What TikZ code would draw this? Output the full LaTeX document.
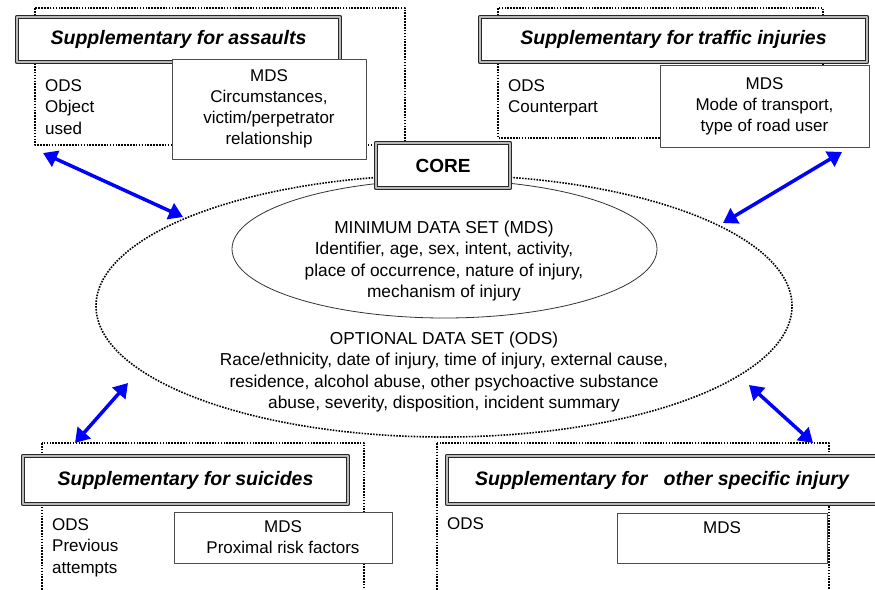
\documentclass[tikz,border=0pt]{standalone}
\usepackage{fontspec}
\setmainfont{Liberation Sans}
\usetikzlibrary{arrows.meta,shapes.geometric}

\tikzset{
    suptitle/.style={draw=black!85, line width=1.5pt, double=gray!55, double distance=1.4pt,
        fill=white, inner sep=0pt, font=\fontsize{19.5}{22}\selectfont\bfseries\itshape},
    mdsbox/.style={draw=black!70, line width=0.7pt, fill=white, inner sep=0pt, align=center,
        font=\fontsize{17}{21}\selectfont},
    bodytext/.style={inner sep=0pt, align=left, anchor=north west, font=\fontsize{17}{21.5}\selectfont},
    coretext/.style={inner sep=0pt, align=center, font=\fontsize{17.3}{21.3}\selectfont},
    groupframe/.style={draw=black, line width=1.6pt, dash pattern=on 1.6pt off 1.3pt},
    linkarrow/.style={blue, line width=3.5pt, {Triangle[length=14pt,width=17pt]}-{Triangle[length=14pt,width=17pt]}}
}

\begin{document}
\begin{tikzpicture}[x=1pt, y=-1pt, line join=round]
                
                \clip (0,0) rectangle (875,589);
                \fill[white] (0,0) rectangle (875,589);

                % core ellipses
                \node[ellipse, groupframe, minimum width=696, minimum height=262] (outer) at (444,306) {};
                \node[ellipse, draw=black!80, line width=0.8pt, minimum width=425, minimum height=138] (inner) at (444.5,249) {};

                \node[coretext] (mdsset) at (444,261) {MINIMUM DATA SET (MDS)\\Identifier, age, sex, intent, activity,\\place of occurrence, nature of injury,\\mechanism of injury};
                \node[coretext] (odsset) at (444,372) {OPTIONAL DATA SET (ODS)\\Race/ethnicity, date of injury, time of injury, external cause,\\residence, alcohol abuse, other psychoactive substance\\abuse, severity, disposition, incident summary};

                % dotted frames
                \draw[groupframe] (35,8) rectangle (405,145);
                \draw[groupframe] (498,8) rectangle (823,138);
                \draw[groupframe] (42,443) rectangle (364,620);
                \draw[groupframe] (437,443) rectangle (829,620);

                % assaults
                \node[suptitle, minimum width=323, minimum height=45] (assaults) at (178.5,39.5) {Supplementary for assaults};
                \node[bodytext] (odsassaults) at (45,79) {ODS\\Object\\used};
                \node[mdsbox, minimum width=194, minimum height=100] (mdsassaults) at (269,109) {MDS\\Circumstances,\\victim/perpetrator\\relationship};

                % traffic
                \node[suptitle, minimum width=387, minimum height=45] (traffic) at (673.5,39.5) {Supplementary for traffic injuries};
                \node[bodytext] (odstraffic) at (508,79) {ODS\\Counterpart};
                \node[mdsbox, minimum width=209, minimum height=82] (mdstraffic) at (764.5,106) {MDS\\Mode of transport,\\type of road user};

                % suicides
                \node[suptitle, minimum width=325, minimum height=48] (suicides) at (185.5,480) {Supplementary for suicides};
                \node[bodytext] (odssuicides) at (52,518) {ODS\\Previous\\attempts};
                \node[mdsbox, minimum width=218, minimum height=51] (mdssuicides) at (283,537.5) {MDS\\Proximal risk factors};

                % other
                \node[suptitle, minimum width=430, minimum height=48] (other) at (662,480) {Supplementary for \ \ other specific injury};
                \node[bodytext] (odsother) at (447,517) {ODS};
                \node[mdsbox, minimum width=210, minimum height=50] (mdsother) at (722,538) {};
                \node[mdsbox, draw=none, fill=none, anchor=north] (mdsotherlabel) at (mdsother.north) {\rule{0pt}{20pt}MDS};

                % core
                \node[suptitle, font=\fontsize{19}{22}\selectfont\bfseries, minimum width=134, minimum height=45] (core) at (443,165.5) {CORE};

                % arrows
                \coordinate (tlend) at (43,153);
                \coordinate (tlcore) at (183,217);
                \coordinate (trend) at (842,152);
                \coordinate (trcore) at (723,223);
                \coordinate (blend) at (75,443);
                \coordinate (blcore) at (128,383);
                \coordinate (brend) at (813,443);
                \coordinate (brcore) at (749,385);

                \draw[linkarrow] (tlend) -- (tlcore);
                \draw[linkarrow] (trend) -- (trcore);
                \draw[linkarrow] (blend) -- (blcore);
                \draw[linkarrow] (brend) -- (brcore);
                
            \end{tikzpicture}
\end{document}
